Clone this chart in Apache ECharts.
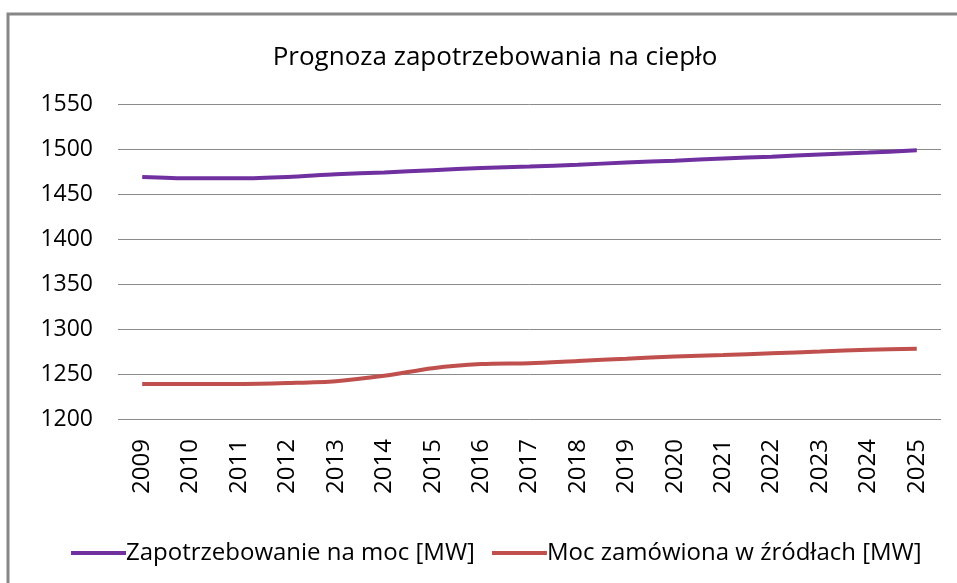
<!DOCTYPE html>
<html>
<head>
<meta charset="utf-8">
<script src="https://cdn.jsdelivr.net/npm/echarts@6/dist/echarts.min.js"></script>
<style>
html,body{margin:0;padding:0;background:#fff;}
#main{width:957px;height:583px;}
</style>
</head>
<body>
<div id="main"></div>
<script>
let years = ['2009','2010','2011','2012','2013','2014','2015','2016','2017','2018','2019','2020','2021','2022','2023','2024','2025'];
let demand = [1469,1467.5,1467.5,1469,1472,1474,1476.5,1479,1480.5,1482.5,1485,1487,1489.5,1491.5,1494,1496,1498.5];
let ordered = [1239,1239,1239,1240,1242,1248,1256.5,1261,1262,1264.5,1267,1269.5,1271,1273,1275,1277,1278];
let yTicks = [1200,1550,50];

let myChart = echarts.init(document.getElementById('main'));
let font = 'Open Sans';
let option = {
    animation:false,
    backgroundColor:'#fff',
    title:{
        text:'Prognoza zapotrzebowania na ciepło',
        left:490,
        textAlign:'center',
        top:40,
        textStyle:{fontFamily:font,fontSize:26,fontWeight:'normal',color:'#000'}
    },
    graphic:[{
        type:'rect',
        shape:{x:8,y:14,width:1000,height:700},
        style:{fill:'none',stroke:'#878787',lineWidth:3},
        silent:true
    }],
    legend:{
        bottom:13,
        left:66,
        itemWidth:55,
        itemHeight:4,
        itemGap:17,
        icon:'rect',
        textStyle:{fontFamily:font,fontSize:24,color:'#000',padding:[0,0,0,-5]},
        data:['Zapotrzebowanie na moc [MW]','Moc zamówiona w źródłach [MW]']
    },
    grid:{left:118,right:16,top:104,bottom:164},
    xAxis:{
        type:'category',
        data:years,
        boundaryGap:true,
        axisLine:{show:false},
        axisTick:{show:false},
        axisLabel:{rotate:90,fontFamily:font,fontSize:24,color:'#000',margin:20}
    },
    yAxis:{
        type:'value',
        min:yTicks[0],
        max:yTicks[1],
        interval:yTicks[2],
        axisLine:{show:false},
        axisTick:{show:false},
        axisLabel:{fontFamily:font,fontSize:23,color:'#000',margin:25,formatter:function(v){return String(v);}},
        splitLine:{lineStyle:{color:'#8a8a8a',width:1}}
    },
    series:[{
        name:'Zapotrzebowanie na moc [MW]',
        type:'line',
        data:demand,
        smooth:0.3,
        symbol:'none',
        color:'#7030A0',
        lineStyle:{width:4,color:'#7030A0'}
    },{
        name:'Moc zamówiona w źródłach [MW]',
        type:'line',
        data:ordered,
        smooth:0.3,
        symbol:'none',
        color:'#C0504D',
        lineStyle:{width:4,color:'#C0504D'}
    }]
};
myChart.setOption(option);
</script>
</body>
</html>
